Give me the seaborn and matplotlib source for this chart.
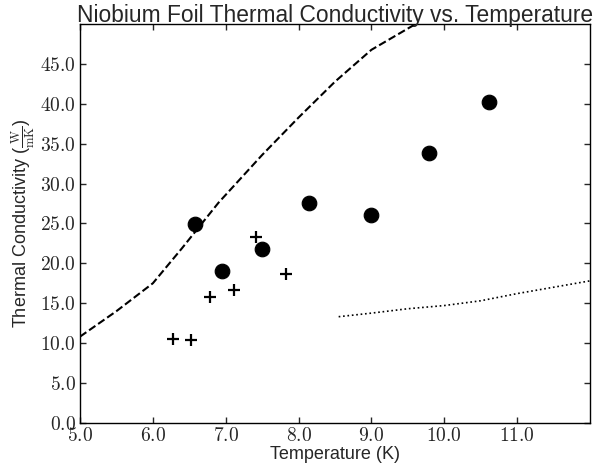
import matplotlib
matplotlib.use('Agg')
import matplotlib.pyplot as plt
import seaborn as sns
from matplotlib.ticker import FuncFormatter

# measured points (circles)
circ_T = [6.58, 6.95, 7.50, 8.14, 8.99, 9.79, 10.62]
circ_k = [24.9, 19.0, 21.75, 27.6, 26.1, 33.9, 40.3]

# measured points (crosses)
plus_T = [6.28, 6.53, 6.79, 7.11, 7.41, 7.83]
plus_k = [10.5, 10.4, 15.75, 16.6, 23.3, 18.6]

# dashed curve
dash_T = [5.0, 5.5, 6.0, 6.4, 6.9, 7.5, 8.0, 8.5, 9.0, 9.6, 10.0]
dash_k = [10.8, 14.0, 17.5, 21.9, 27.6, 33.6, 38.3, 42.8, 46.8, 50.0, 52.3]

# dotted curve
dot_T = [8.55, 9.0, 9.5, 10.0, 10.5, 11.0, 11.5, 12.0]
dot_k = [13.3, 13.75, 14.3, 14.7, 15.3, 16.2, 17.0, 17.8]

xticks = [5.0, 6.0, 7.0, 8.0, 9.0, 10.0, 11.0]
yticks = [0, 5, 10, 15, 20, 25, 30, 35, 40, 45]

sns.set_style('ticks')
plt.rcParams['font.family'] = ['Liberation Sans', 'DejaVu Sans']
plt.rcParams['mathtext.fontset'] = 'cm'

fig, ax = plt.subplots(figsize=(5.95, 4.67), dpi=100)
fig.subplots_adjust(left=0.1345, right=0.9916, bottom=0.0949, top=0.948)

sns.lineplot(x=dash_T, y=dash_k, ax=ax, color='black', linestyle='--', linewidth=1.5, sort=False)
sns.lineplot(x=dot_T, y=dot_k, ax=ax, color='black', linestyle=':', linewidth=1.2, sort=False)
sns.scatterplot(x=circ_T, y=circ_k, ax=ax, marker='o', s=110, color='black', edgecolor='black', zorder=3)
sns.scatterplot(x=plus_T, y=plus_k, ax=ax, marker='+', s=80, color='black', linewidth=1.6, zorder=3)

ax.set_xlim(5, 12)
ax.set_ylim(0, 50)
ax.set_xticks(xticks)
ax.set_yticks(yticks)
fmt = FuncFormatter(lambda v, p: r'$\mathbf{%.1f}$' % v)
ax.xaxis.set_major_formatter(fmt)
ax.yaxis.set_major_formatter(fmt)
ax.tick_params(direction='in', top=True, right=True, labelsize=14, length=4, width=1, pad=3)
for s in ax.spines.values():
    s.set_linewidth(1.0)
    s.set_color('black')

ax.set_xlabel('Temperature (K)', fontsize=13, labelpad=1)
ax.set_ylabel(r'Thermal Conductivity ($\frac{\mathrm{W}}{\mathrm{mK}}$)', fontsize=13, labelpad=2)
ax.set_title('Niobium Foil Thermal Conductivity vs. Temperature', fontsize=16.4, pad=2)

fig.savefig('out.png', dpi=100)
